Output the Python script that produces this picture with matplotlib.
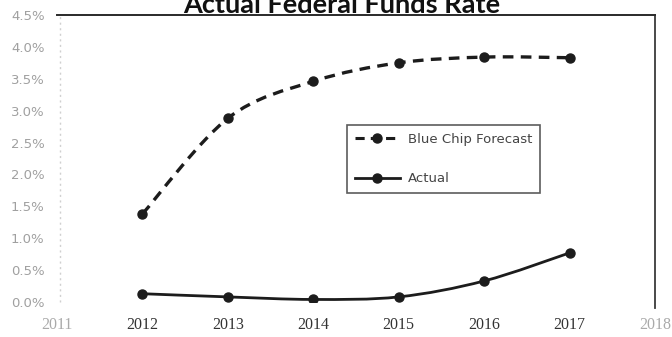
"""Blue Chip forecast vs actual federal funds rate"""
import numpy as np
import matplotlib.pyplot as plt
from matplotlib.path import Path
from matplotlib.patches import PathPatch
from matplotlib.lines import Line2D

years = [2012, 2013, 2014, 2015, 2016, 2017]
forecast = [1.38, 2.88, 3.46, 3.75, 3.84, 3.83]   # percent
actual = [0.13, 0.08, 0.04, 0.08, 0.33, 0.77]     # percent

x_ticks = [2011, 2012, 2013, 2014, 2015, 2016, 2017, 2018]
y_ticks = [0.0, 0.5, 1.0, 1.5, 2.0, 2.5, 3.0, 3.5, 4.0, 4.5]

INK = '#1c1c1c'


def smooth_path(xs, ys):
    # Catmull-Rom through the points, written as cubic Bezier segments
    xs = np.asarray(xs, float)
    ys = np.asarray(ys, float)
    pts = np.column_stack([xs, ys])
    verts = [pts[0]]
    codes = [Path.MOVETO]
    n = len(pts)
    for i in range(n - 1):
        p0 = pts[max(i - 1, 0)]
        p1 = pts[i]
        p2 = pts[i + 1]
        p3 = pts[min(i + 2, n - 1)]
        c1 = p1 + (p2 - p0) / 6.0
        c2 = p2 - (p3 - p1) / 6.0
        verts += [c1, c2, p2]
        codes += [Path.CURVE4] * 3
    return Path(verts, codes)


fig = plt.figure(figsize=(6.72, 3.37), dpi=100)
fig.patch.set_facecolor('white')
W, H = 672, 337
ax = fig.add_axes([57 / W, (H - 302) / H, (655 - 57) / W, (302 - 15) / H])

# Forecast: dashed smoothed curve
ax.add_patch(PathPatch(smooth_path(years, forecast), fill=False, edgecolor=INK,
                       lw=2.4, linestyle=(0, (3.2, 2.2)), capstyle='butt'))
ax.plot(years, forecast, linestyle='none', marker='o', ms=6.5, color=INK)

# Actual: solid smoothed curve
ax.add_patch(PathPatch(smooth_path(years, actual), fill=False, edgecolor=INK, lw=2.0))
ax.plot(years, actual, linestyle='none', marker='o', ms=6.5, color=INK)

ax.set_xlim(2011, 2018)
ax.set_ylim(0, 4.5)
ax.set_xticks(x_ticks)
ax.set_yticks(y_ticks)
ax.set_yticklabels([f'{v:.1f}%' for v in y_ticks], color='#a0a0a0', fontsize=9.5)
ax.set_xticklabels([str(y) for y in x_ticks], fontfamily='Liberation Serif', fontsize=11.5)
for lbl, yr in zip(ax.get_xticklabels(), x_ticks):
    lbl.set_color('#aaaaaa' if yr in (2011, 2018) else '#333333')
ax.tick_params(axis='both', length=0)
ax.tick_params(axis='y', pad=9)
ax.tick_params(axis='x', pad=11)

for side in ('left', 'bottom', 'right'):
    ax.spines[side].set_visible(False)
ax.spines['top'].set_color('#2a2a2a')
ax.spines['top'].set_linewidth(1.4)
# right border runs a little below the zero line
ax.plot([1, 1], [1, -6 / 287], transform=ax.transAxes, color='#3a3a3a',
        lw=1.3, clip_on=False)
# faint dotted value axis
ax.plot([0.005, 0.005], [0, 1], transform=ax.transAxes, color='#d0d0d0',
        lw=1.0, linestyle=(0, (1.5, 2.5)), clip_on=False)

handles = [
    Line2D([], [], color=INK, lw=2.2, linestyle=(0, (3, 2)), marker='o', ms=6.5),
    Line2D([], [], color=INK, lw=2.0, marker='o', ms=6.5),
]
leg = ax.legend(handles, ['Blue Chip Forecast', 'Actual'], loc='upper left',
                bbox_to_anchor=(0.485, 0.617), borderaxespad=0, fancybox=False,
                edgecolor='#333333', fontsize=9.5, handlelength=3.4, handletextpad=0.6,
                labelspacing=2.0, borderpad=0.6, labelcolor='#444444')
leg.get_frame().set_linewidth(1.2)

# title sits right at the top edge of the figure
fig.text(342 / W, (H - 13) / H, 'Actual Federal Funds Rate', ha='center',
         va='baseline', fontfamily='Lato', fontweight='bold', fontsize=19.5,
         color='#111111')

plt.savefig('out.png', dpi=100, facecolor='white')
plt.close()
